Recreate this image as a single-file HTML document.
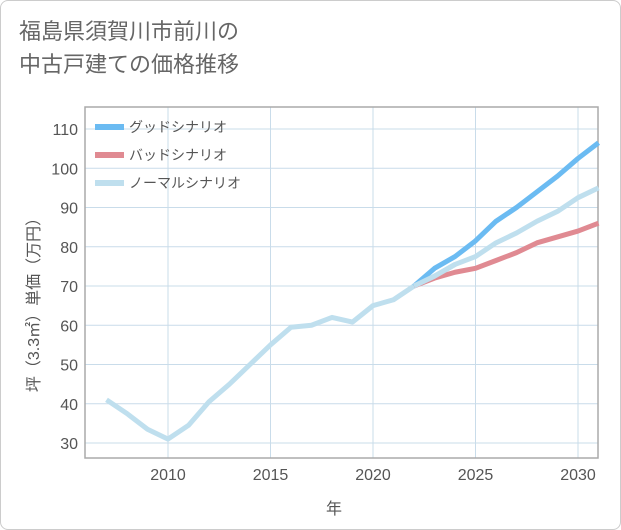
<!DOCTYPE html>
<html><head><meta charset="utf-8"><style>
body{margin:0;background:#fff;}
#c{position:relative;width:621px;height:530px;box-sizing:border-box;border:1px solid #ccc;border-radius:8px;background:#fff;overflow:hidden;font-family:"Liberation Sans","Noto Sans CJK JP",sans-serif;}
#t{position:absolute;left:18px;top:14px;font-size:22px;line-height:33px;color:#666;}
svg text{font-family:"Liberation Sans","Noto Sans CJK JP",sans-serif;}
</style></head><body>
<div id="c">
<div id="t">福島県須賀川市前川の<br>中古戸建ての価格推移</div>
<svg id="s" width="621" height="530" style="position:absolute;left:0;top:0"></svg>
</div>
<script>
const years=[2007,2008,2009,2010,2011,2012,2013,2014,2015,2016,2017,2018,2019,2020,2021,2022,2023,2024,2025,2026,2027,2028,2029,2030,2031];
const normal=[41,37.5,33.5,31,34.5,40.5,45,50,55,59.5,60,62,60.8,65,66.5,70,72.5,75.5,77.5,81,83.5,86.5,89,92.5,95];
const fYears=[2022,2023,2024,2025,2026,2027,2028,2029,2030,2031];
const good=[70,74.5,77.5,81.5,86.5,90,94,98,102.5,106.5];
const bad=[70,72,73.5,74.5,76.5,78.5,81,82.5,84,86];
const xTicks=[2010,2015,2020,2025,2030];
const yTicks=[30,40,50,60,70,80,90,100,110];
const L=84,R=597,T=106,B=457;
const x=v=>167+(v-2010)*20.5;
const y=v=>442-(v-30)*3.925;
const s=document.getElementById('s');
const NS='http://www.w3.org/2000/svg';
function mk(tag,a,p){const e=document.createElementNS(NS,tag);for(const k in a)e.setAttribute(k,a[k]);(p||s).appendChild(e);return e;}
for(let v=2007;v<=2031;v++){if(v%5)continue;}
yTicks.forEach(v=>{const l=mk('line',{x1:L,x2:R,y1:y(v),y2:y(v),stroke:'#c9dcea','stroke-width':1});

const t=mk('text',{x:L-7,y:y(v)+6,'text-anchor':'end','font-size':16,fill:'#555'});t.textContent=v;
});
xTicks.forEach(v=>{const l=mk('line',{x1:x(v),x2:x(v),y1:T,y2:B,stroke:'#c9dcea','stroke-width':1});

const t=mk('text',{x:x(v),y:B+22,'text-anchor':'middle','font-size':16,fill:'#555'});t.textContent=v;
});
const fr=mk('rect',{x:L,y:T,width:R-L,height:B-T,fill:'none',stroke:'#aaa','stroke-width':1.5});

function line(xs,vs,c,n){const p=mk('polyline',{points:xs.map((v,i)=>x(v)+','+y(vs[i])).join(' '),fill:'none',stroke:c,'stroke-width':5,'stroke-linejoin':'round'});
}
line(years,normal,'#bfdfee','normal-scenario-line');
line(fYears,bad,'#e08a92','bad-scenario-line');
line(fYears,good,'#6bbbf2','good-scenario-line');
line(fYears.slice(0,3),normal.slice(15,18),'#bfdfee','normal-scenario-overlap');
const leg=[['グッドシナリオ','#6bbbf2'],['バッドシナリオ','#e08a92'],['ノーマルシナリオ','#bfdfee']];
leg.forEach((d,i)=>{const yy=126+i*28;
const l=mk('line',{x1:94,x2:123,y1:yy,y2:yy,stroke:d[1],'stroke-width':6});

const t=mk('text',{x:128,y:yy+5,'font-size':14,fill:'#555'});t.textContent=d[0];
});
const xt=mk('text',{x:333,y:513,'text-anchor':'middle','font-size':16,fill:'#555'});xt.textContent='年';

const yt=mk('text',{x:0,y:0,'text-anchor':'middle','font-size':16,fill:'#555',transform:'translate(38,300) rotate(-90)'});yt.textContent='坪（3.3㎡）単価（万円）';

</script>
</body></html>
